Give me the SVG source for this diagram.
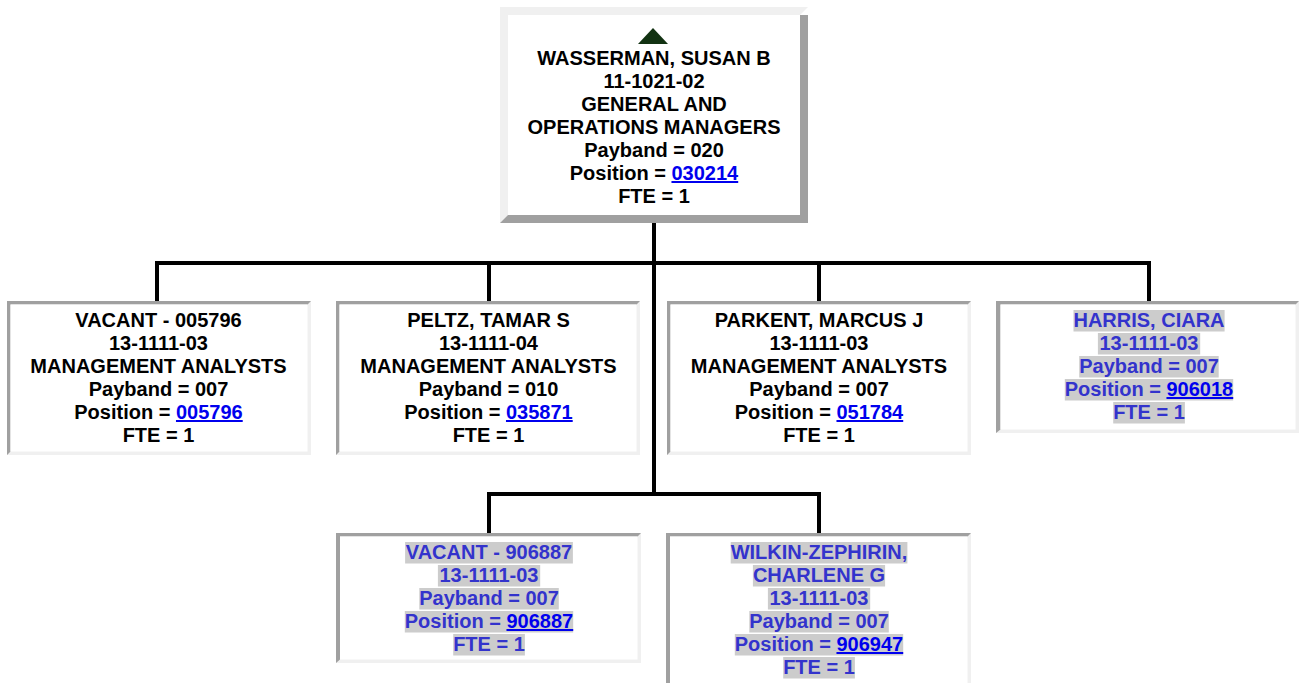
<svg xmlns="http://www.w3.org/2000/svg" width="1299" height="683" viewBox="0 0 1299 683">
<style>
text{font-family:"Liberation Sans",Arial,Helvetica,sans-serif;font-weight:bold;font-size:20px;text-anchor:middle;fill:#000}
.h text{fill:#3333cc}
.lnk{fill:#0000ee;text-decoration:underline}
.hl{fill:#cccccc}
.dk{fill:#a0a0a0}
.lt{fill:#f0f0f0}
.wh{fill:#ffffff}
.con{stroke:#000;stroke-width:4;fill:none;stroke-linecap:square}
</style>
<rect width="1299" height="683" fill="#fff"/>
<g id="connectors">
<path class="con" d="M654 223V494M157 263H1149M157 263V301M489 263V301M819 263V301M1149 263V301M489 494H819M489 494V533M819 494V533"/>
</g>
<g id="n-wasserman">
<polygon class="lt" points="500,7 808,7 800,15 508,15 508,215 500,223"/>
<polygon class="dk" points="808,15 808,223 500,223 508,215 800,215 800,15"/>
<rect class="wh" x="508" y="15" width="292" height="200"/>
<polygon points="638,44 653,28 668,44" fill="#123212"/>
<text x="654" y="65">WASSERMAN, SUSAN B</text>
<text x="654" y="88">11-1021-02</text>
<text x="654" y="111">GENERAL AND</text>
<text x="654" y="134">OPERATIONS MANAGERS</text>
<text x="654" y="157">Payband = 020</text>
<text x="654" y="180">Position = <tspan class="lnk">030214</tspan></text>
<text x="654" y="203">FTE = 1</text>
</g>
<g id="n-vacant-005796">
<rect class="lt" x="7" y="301" width="304" height="154"/>
<polygon class="dk" points="7,301 311,301 307.5,304.5 10.5,304.5 10.5,451.5 7,455"/>
<rect class="wh" x="10.5" y="304.5" width="297" height="147"/>
<text x="158.5" y="327">VACANT - 005796</text>
<text x="158.5" y="350">13-1111-03</text>
<text x="158.5" y="373">MANAGEMENT ANALYSTS</text>
<text x="158.5" y="396">Payband = 007</text>
<text x="158.5" y="419">Position = <tspan class="lnk">005796</tspan></text>
<text x="158.5" y="442">FTE = 1</text>
</g>
<g id="n-peltz">
<rect class="lt" x="336" y="301" width="304" height="154"/>
<polygon class="dk" points="336,301 640,301 636.5,304.5 339.5,304.5 339.5,451.5 336,455"/>
<rect class="wh" x="339.5" y="304.5" width="297" height="147"/>
<text x="488.5" y="327">PELTZ, TAMAR S</text>
<text x="488.5" y="350">13-1111-04</text>
<text x="488.5" y="373">MANAGEMENT ANALYSTS</text>
<text x="488.5" y="396">Payband = 010</text>
<text x="488.5" y="419">Position = <tspan class="lnk">035871</tspan></text>
<text x="488.5" y="442">FTE = 1</text>
</g>
<g id="n-parkent">
<rect class="lt" x="667" y="301" width="304" height="154"/>
<polygon class="dk" points="667,301 971,301 967.5,304.5 670.5,304.5 670.5,451.5 667,455"/>
<rect class="wh" x="670.5" y="304.5" width="297" height="147"/>
<text x="819" y="327">PARKENT, MARCUS J</text>
<text x="819" y="350">13-1111-03</text>
<text x="819" y="373">MANAGEMENT ANALYSTS</text>
<text x="819" y="396">Payband = 007</text>
<text x="819" y="419">Position = <tspan class="lnk">051784</tspan></text>
<text x="819" y="442">FTE = 1</text>
</g>
<g id="n-harris" class="h">
<rect class="lt" x="996" y="301" width="303" height="132"/>
<polygon class="dk" points="996,301 1299,301 1295.5,304.5 1000.5,304.5 1000.5,429.5 996,433"/>
<rect class="wh" x="1000.5" y="304.5" width="295" height="125"/>
<rect class="hl" x="1073.5" y="310" width="151.1" height="21.5"/>
<rect class="hl" x="1097.9" y="333" width="102.3" height="21.5"/>
<rect class="hl" x="1079.2" y="356" width="139.5" height="21.5"/>
<rect class="hl" x="1064.8" y="379" width="168.4" height="21.5"/>
<rect class="hl" x="1113.2" y="402" width="71.7" height="21.5"/>
<text x="1149" y="327">HARRIS, CIARA</text>
<text x="1149" y="350">13-1111-03</text>
<text x="1149" y="373">Payband = 007</text>
<text x="1149" y="396">Position = <tspan class="lnk">906018</tspan></text>
<text x="1149" y="419">FTE = 1</text>
</g>
<g id="n-vacant-906887" class="h">
<rect class="lt" x="336" y="533" width="305" height="130"/>
<polygon class="dk" points="336,533 641,533 637.5,536.5 340,536.5 340,659.5 336,663"/>
<rect class="wh" x="340" y="536.5" width="297.5" height="123"/>
<rect class="hl" x="405.1" y="542" width="167.8" height="21.5"/>
<rect class="hl" x="437.9" y="565" width="102.3" height="21.5"/>
<rect class="hl" x="419.3" y="588" width="139.5" height="21.5"/>
<rect class="hl" x="404.8" y="611" width="168.4" height="21.5"/>
<rect class="hl" x="453.2" y="634" width="71.7" height="21.5"/>
<text x="489" y="559">VACANT - 906887</text>
<text x="489" y="582">13-1111-03</text>
<text x="489" y="605">Payband = 007</text>
<text x="489" y="628">Position = <tspan class="lnk">906887</tspan></text>
<text x="489" y="651">FTE = 1</text>
</g>
<g id="n-wilkin" class="h">
<rect class="lt" x="666" y="533" width="305" height="160"/>
<polygon class="dk" points="666,533 971,533 967.5,536.5 670,536.5 670,693 666,693"/>
<rect class="wh" x="670" y="536.5" width="297.5" height="160"/>
<rect class="hl" x="730.7" y="542" width="176.7" height="21.5"/>
<rect class="hl" x="752.9" y="565" width="132.2" height="21.5"/>
<rect class="hl" x="767.9" y="588" width="102.3" height="21.5"/>
<rect class="hl" x="749.3" y="611" width="139.5" height="21.5"/>
<rect class="hl" x="734.8" y="634" width="168.4" height="21.5"/>
<rect class="hl" x="783.2" y="657" width="71.7" height="21.5"/>
<text x="819" y="559">WILKIN-ZEPHIRIN,</text>
<text x="819" y="582">CHARLENE G</text>
<text x="819" y="605">13-1111-03</text>
<text x="819" y="628">Payband = 007</text>
<text x="819" y="651">Position = <tspan class="lnk">906947</tspan></text>
<text x="819" y="674">FTE = 1</text>
</g>
</svg>
